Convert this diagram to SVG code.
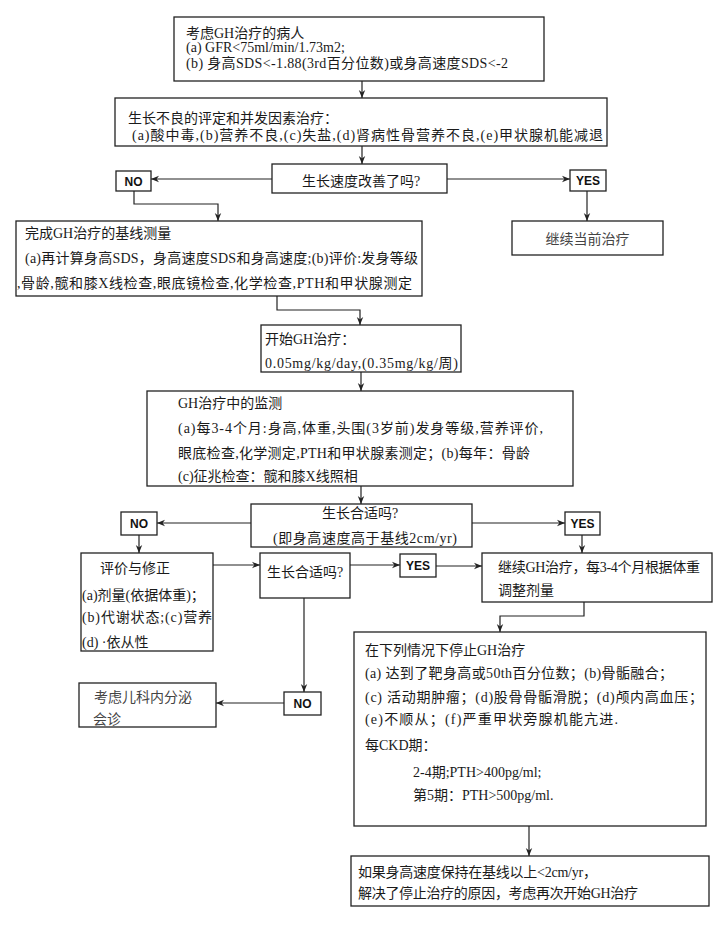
<svg xmlns="http://www.w3.org/2000/svg" width="720" height="951" viewBox="0 0 720 951">
<style>
.box{fill:#fff;stroke:#222;stroke-width:1.3}
.t{font-family:'Liberation Serif','Noto Sans CJK SC',serif;font-size:14px;fill:#1a1a1a}
.g{fill:#444}
.lbl{font-family:'Liberation Sans',Arial,sans-serif;font-weight:bold;font-size:12px;text-anchor:middle;fill:#111}
.c{fill:none;stroke:#222;stroke-width:1.2;marker-end:url(#ah)}
.l{fill:none;stroke:#222;stroke-width:1.2}
</style>
<defs>
<marker id="ah" viewBox="0 0 10 10" refX="10" refY="5" markerWidth="8" markerHeight="8" markerUnits="userSpaceOnUse" orient="auto">
<path d="M0,1 L10,5 L0,9 L3,5 z" fill="#222"/>
</marker>
</defs>
<rect width="720" height="951" fill="#fff"/>

<g id="connectors">
<line class="c" x1="362" y1="81" x2="362" y2="98"/>
<line class="c" x1="362" y1="146" x2="362" y2="164"/>
<line class="c" x1="272" y1="179" x2="151" y2="179"/>
<line class="c" x1="447" y1="179" x2="570" y2="179"/>
<polyline class="c" points="134,191 134,204 218,204 218,221"/>
<line class="c" x1="587" y1="191" x2="587" y2="221"/>
<polyline class="c" points="277,296 277,310 360,310 360,325"/>
<line class="c" x1="361" y1="372" x2="361" y2="391"/>
<line class="c" x1="361" y1="486" x2="361" y2="504"/>
<line class="c" x1="251" y1="523" x2="157" y2="523"/>
<line class="c" x1="472" y1="523" x2="565" y2="523"/>
<line class="c" x1="139" y1="535" x2="139" y2="553"/>
<line class="c" x1="582" y1="535" x2="582" y2="553"/>
<line class="c" x1="213" y1="565" x2="260" y2="565"/>
<line class="c" x1="350" y1="565" x2="400" y2="565"/>
<line class="c" x1="436" y1="566" x2="482" y2="566"/>
<polyline class="c" points="584,602 584,616 500,616 500,632"/>
<line class="c" x1="304" y1="598" x2="304" y2="692"/>
<line class="c" x1="284" y1="703" x2="216" y2="703"/>
<line class="c" x1="529" y1="826" x2="529" y2="856"/>
</g>

<g id="n1">
<rect class="box" x="174" y="17" width="370" height="64"/>
<text class="t" x="186" y="38">考虑GH治疗的病人</text>
<text class="t" x="186" y="52">(a) GFR&lt;75ml/min/1.73m2;</text>
<text class="t" x="186" y="68" textLength="322">(b)  身高SDS&lt;-1.88(3rd百分位数)或身高速度SDS&lt;-2</text>
</g>

<g id="n2">
<rect class="box" x="115" y="98" width="492" height="48"/>
<text class="t" x="128" y="123">生长不良的评定和并发因素治疗：</text>
<text class="t" x="132" y="140" textLength="471">(a)酸中毒,(b)营养不良,(c)失盐,(d)肾病性骨营养不良,(e)甲状腺机能减退</text>
</g>

<g id="d1">
<rect class="box" x="272" y="164" width="175" height="29"/>
<text class="t" x="302" y="186">生长速度改善了吗?</text>
</g>

<g id="no1">
<rect class="box" x="116" y="171" width="35" height="20"/>
<text class="lbl" x="133.5" y="185.5">NO</text>
</g>

<g id="yes1">
<rect class="box" x="570" y="170" width="36" height="21"/>
<text class="lbl" x="588" y="185">YES</text>
</g>

<g id="n3">
<rect class="box" x="512" y="221" width="151" height="34"/>
<text class="t g" x="587.5" y="244" text-anchor="middle">继续当前治疗</text>
</g>

<g id="n4">
<rect class="box" x="16" y="221" width="406" height="75"/>
<text class="t" x="25" y="238">完成GH治疗的基线测量</text>
<text class="t" x="25" y="263" textLength="393">(a)再计算身高SDS，身高速度SDS和身高速度;(b)评价:发身等级</text>
<text class="t" x="17" y="288" textLength="395">,骨龄,髋和膝X线检查,眼底镜检查,化学检查,PTH和甲状腺测定</text>
</g>

<g id="n5">
<rect class="box" x="261" y="325" width="200" height="47"/>
<text class="t" x="265" y="344">开始GH治疗：</text>
<text class="t" x="265" y="368" textLength="193">0.05mg/kg/day,(0.35mg/kg/周)</text>
</g>

<g id="n6">
<rect class="box" x="147" y="391" width="426" height="95"/>
<text class="t" x="178" y="408">GH治疗中的监测</text>
<text class="t" x="178" y="433" textLength="365">(a)每3-4个月:身高,体重,头围(3岁前)发身等级,营养评价,</text>
<text class="t" x="178" y="458" textLength="352">眼底检查,化学测定,PTH和甲状腺素测定；(b)每年：骨龄</text>
<text class="t" x="178" y="481">(c)征兆检查：髋和膝X线照相</text>
</g>

<g id="d2">
<rect class="box" x="251" y="504" width="221" height="43"/>
<text class="t" x="360" y="518" text-anchor="middle">生长合适吗?</text>
<text class="t" x="273" y="543" textLength="184">(即身高速度高于基线2cm/yr)</text>
</g>

<g id="no2">
<rect class="box" x="121" y="512" width="36" height="23"/>
<text class="lbl" x="139" y="528">NO</text>
</g>

<g id="yes2">
<rect class="box" x="565" y="512" width="35" height="23"/>
<text class="lbl" x="582.5" y="528">YES</text>
</g>

<g id="n7">
<rect class="box" x="81" y="553" width="132" height="98"/>
<text class="t" x="100" y="573">评价与修正</text>
<text class="t" x="82" y="600">(a)剂量(依据体重)；</text>
<text class="t" x="82" y="622" textLength="130">(b)代谢状态;(c)营养</text>
<text class="t" x="82" y="647">(d) ·依从性</text>
</g>

<g id="d3">
<rect class="box" x="260" y="553" width="90" height="45"/>
<text class="t" x="267" y="577">生长合适吗?</text>
</g>

<g id="yes3">
<rect class="box" x="400" y="554" width="36" height="23"/>
<text class="lbl" x="418" y="570">YES</text>
</g>

<g id="n8">
<rect class="box" x="482" y="553" width="230" height="49"/>
<text class="t" x="498" y="572" textLength="202">继续GH治疗，每3-4个月根据体重</text>
<text class="t" x="498" y="595">调整剂量</text>
</g>

<g id="no3">
<rect class="box" x="284" y="692" width="37" height="23"/>
<text class="lbl" x="302.5" y="708">NO</text>
</g>

<g id="n9">
<rect class="box" x="79" y="683" width="137" height="44"/>
<text class="t g" x="94" y="702">考虑儿科内分泌</text>
<text class="t g" x="93" y="724">会诊</text>
</g>

<g id="n10">
<rect class="box" x="354" y="632" width="352" height="194"/>
<text class="t" x="365" y="655">在下列情况下停止GH治疗</text>
<text class="t" x="365" y="678" textLength="308">(a) 达到了靶身高或50th百分位数；(b)骨骺融合；</text>
<text class="t" x="365" y="702" textLength="338">(c) 活动期肿瘤；(d)股骨骨骺滑脱；(d)颅内高血压；</text>
<text class="t" x="365" y="724" textLength="253">(e)不顺从；(f)严重甲状旁腺机能亢进.</text>
<text class="t" x="365" y="750">每CKD期：</text>
<text class="t" x="413" y="777">2-4期;PTH&gt;400pg/ml;</text>
<text class="t" x="413" y="800">第5期：PTH&gt;500pg/ml.</text>
</g>

<g id="n11">
<rect class="box" x="351" y="856" width="358" height="50"/>
<text class="t" x="358" y="877" textLength="239">如果身高速度保持在基线以上&lt;2cm/yr，</text>
<text class="t" x="358" y="898" textLength="280">解决了停止治疗的原因，考虑再次开始GH治疗</text>
</g>
</svg>
